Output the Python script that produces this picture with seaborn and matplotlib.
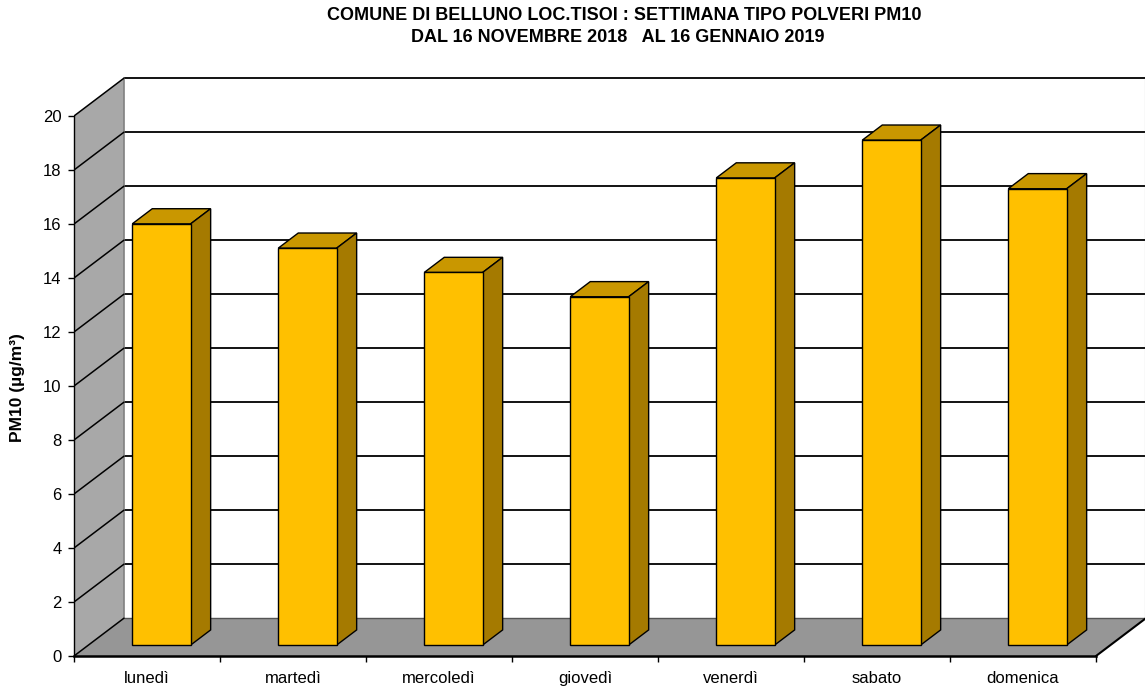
import numpy as np
import pandas as pd
import matplotlib
matplotlib.use("Agg")
import matplotlib.pyplot as plt
import seaborn as sns
from matplotlib.patches import Polygon

# -----------------------------
# Data
# -----------------------------
days = ["lunedì", "martedì", "mercoledì", "giovedì", "venerdì", "sabato", "domenica"]
pm10 = [15.6, 14.7, 13.8, 12.9, 17.3, 18.7, 16.9]
y_ticks = np.arange(0, 21, 2)

title_1 = "COMUNE DI BELLUNO LOC.TISOI : SETTIMANA TIPO POLVERI PM10"
title_2 = "DAL 16 NOVEMBRE 2018   AL 16 GENNAIO 2019"
y_label = "PM10 (µg/m³)"

sns.set_theme(style="white")
plt.rcParams['font.family'] = ['Liberation Sans', 'DejaVu Sans']
plt.rcParams['text.color'] = 'black'
plt.rcParams['xtick.color'] = 'black'
plt.rcParams['ytick.color'] = 'black'

# fake 3d look: full depth vector in data units (x in categories, y in µg/m³)
DX, DY = 0.342, 1.4
d0, d1 = 0.29, 0.69          # bar front / back depth
front_c, top_c, side_c = "#FFC000", "#C99700", "#A57A00"

W, H = 1145, 688
fig = plt.figure(figsize=(W / 100, H / 100), dpi=100)
ax = fig.add_axes([74 / W, (H - 656) / H, (W - 74) / W, (656 - 70) / H])

df = pd.DataFrame({"day": days, "pm10": pm10})
sns.barplot(data=df, x="day", y="pm10", color=front_c, saturation=1, width=0.4,
            edgecolor="black", linewidth=1, ax=ax, zorder=4)

ax.set_xlim(-0.5, -0.5 + (W - 74) / 146)
ax.set_ylim(0, (656 - 70) / 27)
n = len(days)
ymax = y_ticks[-1]

# -----------------------------
# Walls and floor
# -----------------------------
x0 = -0.5
side_wall = Polygon([(x0, 0), (x0 + DX, DY), (x0 + DX, ymax + DY), (x0, ymax)],
                    closed=True, facecolor="#A8A8A8", edgecolor="none", zorder=0)
ax.add_patch(side_wall)
floor = Polygon([(x0, 0), (n - 0.5, 0), (n - 0.5 + DX, DY), (x0 + DX, DY)],
                closed=True, facecolor="#969696", edgecolor="none", zorder=2)
ax.add_patch(floor)

# gridlines on back wall and side wall
ax.hlines(y_ticks[1:] + DY, x0 + DX, n - 0.5 + DX, color="black", lw=1.3, zorder=1)
for v in y_ticks:
    ax.plot([x0, x0 + DX], [v, v + DY], color="black", lw=1.1, zorder=3)

ax.plot([x0 + DX, x0 + DX], [DY, ymax + DY], color="#808080", lw=1.2, zorder=1)
ax.plot([n - 0.5 + DX, n - 0.5 + DX], [DY, ymax + DY], color="#808080", lw=1.5, zorder=1)
ax.plot([x0 + DX, n - 0.5 + DX], [DY, DY], color="#555555", lw=1, zorder=2.5)
ax.plot([n - 0.5, n - 0.5 + DX], [0, DY], color="black", lw=1.5, zorder=2.5)

# -----------------------------
# 3d bars: move front faces, add top and side faces
# -----------------------------
bdx, bdy = (d1 - d0) * DX, (d1 - d0) * DY
base = d0 * DY
for p in ax.patches:
    if not hasattr(p, "get_height") or p in (side_wall, floor):
        continue
    p.set_x(p.get_x() + d0 * DX)
    p.set_y(base)
    xa, xb = p.get_x(), p.get_x() + p.get_width()
    top = base + p.get_height()
    ax.add_patch(Polygon([(xa, top), (xb, top), (xb + bdx, top + bdy), (xa + bdx, top + bdy)],
                         closed=True, facecolor=top_c, edgecolor="black", lw=1, zorder=3.5))
    ax.add_patch(Polygon([(xb, base), (xb + bdx, base + bdy), (xb + bdx, top + bdy), (xb, top)],
                         closed=True, facecolor=side_c, edgecolor="black", lw=1, zorder=3.5))

# -----------------------------
# Axes styling
# -----------------------------
for s in ["top", "right"]:
    ax.spines[s].set_visible(False)
ax.spines["left"].set_bounds(0, ymax)
ax.spines["left"].set_color("black")
ax.spines["left"].set_linewidth(1)
ax.spines["bottom"].set_bounds(-0.5, n - 0.5)
ax.spines["bottom"].set_color("black")
ax.spines["bottom"].set_linewidth(1.8)
ax.spines["left"].set_zorder(5)
ax.spines["bottom"].set_zorder(5)

ax.set_yticks(y_ticks)
ax.tick_params(axis="y", left=True, length=4, width=1, color="black", labelsize=12, pad=5)
ax.set_xticks(range(n))
ax.set_xticklabels(days)
ax.set_xticks(np.arange(-0.5, n, 1), minor=True)
ax.tick_params(axis="x", which="major", length=0, labelsize=12, pad=10.5)
ax.tick_params(axis="x", which="minor", bottom=True, length=4, width=1, color="black")
ax.set_xlabel("")
ax.set_ylabel("")

fig.text(18 / W, 1 - 388 / H, y_label, rotation=90, ha="center", va="center",
         fontsize=12.5, fontweight="bold")
fig.text(624 / W, 1 - 16 / H, title_1, ha="center", va="center", fontsize=13, fontweight="bold")
fig.text(618 / W, 1 - 37 / H, title_2, ha="center", va="center", fontsize=13, fontweight="bold")

fig.savefig("out.png", dpi=100)
